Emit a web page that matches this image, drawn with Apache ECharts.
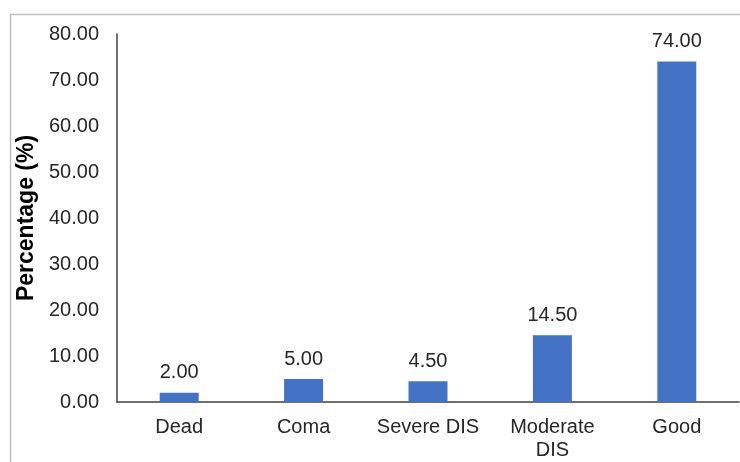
<!DOCTYPE html>
<html>
<head>
<meta charset="utf-8">
<script src="https://cdn.jsdelivr.net/npm/echarts@6/dist/echarts.min.js"></script>
<style>
  html, body { margin: 0; padding: 0; background: #fff; }
  #chart { width: 740px; height: 462px; }
</style>
</head>
<body>
<div id="chart"></div>
<script>
const categories = ['Dead', 'Coma', 'Severe DIS', 'Moderate\nDIS', 'Good'];
const percentages = [2.00, 5.00, 4.50, 14.50, 74.00];

let myChart = echarts.init(document.getElementById('chart'));
let option = {
  animation: false,
  textStyle: { fontFamily: 'Liberation Sans, Arial, sans-serif' },
  graphic: [
    {
      type: 'rect',
      left: 8,
      top: 12,
      shape: { width: 800, height: 500 },
      style: { fill: 'none', stroke: '#bfbfbf', lineWidth: 1.5 },
      silent: true
    }
  ],
  grid: { left: 117, right: 1, top: 34, bottom: 59 },
  xAxis: {
    type: 'category',
    data: categories,
    axisLine: { lineStyle: { color: '#404040', width: 1.5 } },
    axisTick: { show: false },
    axisLabel: { color: '#262626', fontSize: 20, margin: 14, lineHeight: 23, interval: 0 }
  },
  yAxis: {
    type: 'value',
    min: 0,
    max: 80,
    interval: 10,
    name: 'Percentage (%)',
    nameLocation: 'middle',
    nameGap: 79,
    nameTextStyle: { color: '#000', fontSize: 23, fontWeight: 'bold' },
    axisLine: { show: true, lineStyle: { color: '#404040', width: 1.5 } },
    axisTick: { show: false },
    splitLine: { show: false },
    axisLabel: {
      color: '#262626',
      fontSize: 20,
      margin: 18,
      formatter: v => v.toFixed(2)
    }
  },
  series: [
    {
      type: 'bar',
      data: percentages,
      barWidth: 39,
      itemStyle: { color: '#4472C4' },
      label: {
        show: true,
        position: 'top',
        distance: 10,
        color: '#262626',
        fontSize: 20,
        formatter: p => p.value.toFixed(2)
      }
    }
  ]
};
myChart.setOption(option);
</script>
</body>
</html>
